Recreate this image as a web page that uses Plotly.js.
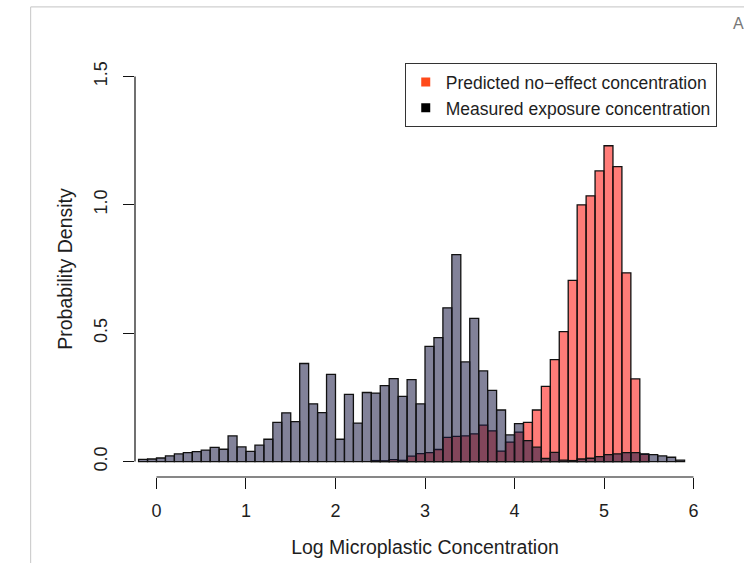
<!DOCTYPE html>
<html>
<head>
<meta charset="utf-8">
<script src="https://cdn.plot.ly/plotly-3.0.1.min.js"></script>
<style>html,body{margin:0;padding:0;background:#fff;}#chart{width:744px;height:563px;}</style>
</head>
<body>
<div id="chart"></div>
<script>
// Bin left edges (width 0.1) for measured exposure concentration
const measuredBins = [-0.2,-0.1,0.0,0.1,0.2,0.3,0.4,0.5,0.6,0.7,0.8,0.9,1.0,1.1,1.2,1.3,1.4,1.5,1.6,1.7,1.8,1.9,2.0,2.1,2.2,2.3,2.4,2.5,2.6,2.7,2.8,2.9,3.0,3.1,3.2,3.3,3.4,3.5,3.6,3.7,3.8,3.9,4.0,4.1,4.2,4.3,4.4,4.5,4.6,4.7,4.8,4.9,5.0,5.1,5.2,5.3,5.4,5.5,5.6,5.7,5.8];
const measuredDensity = [0.009,0.010,0.014,0.022,0.030,0.035,0.039,0.045,0.055,0.048,0.100,0.057,0.040,0.064,0.087,0.153,0.190,0.156,0.382,0.225,0.191,0.340,0.087,0.262,0.150,0.269,0.267,0.296,0.323,0.254,0.319,0.225,0.449,0.483,0.599,0.806,0.388,0.558,0.353,0.277,0.201,0.104,0.148,0.082,0.056,0.012,0.036,0.006,0.004,0.010,0.013,0.019,0.027,0.030,0.035,0.035,0.030,0.027,0.022,0.017,0.006];

// Bin left edges for predicted no-effect concentration
const pnecBins = [2.4,2.5,2.6,2.7,2.8,2.9,3.0,3.1,3.2,3.3,3.4,3.5,3.6,3.7,3.8,3.9,4.0,4.1,4.2,4.3,4.4,4.5,4.6,4.7,4.8,4.9,5.0,5.1,5.2,5.3,5.4];
const pnecDensity = [0.004,0.003,0.008,0.005,0.021,0.031,0.035,0.047,0.094,0.098,0.100,0.108,0.142,0.120,0.041,0.076,0.115,0.153,0.201,0.293,0.397,0.506,0.706,1.000,1.035,1.132,1.230,1.149,0.735,0.322,0.028];

const binWidth = 0.1;
const xTicks = [0,1,2,3,4,5,6];
const yTicks = [0,0.5,1,1.5];
const yTickText = ['0.0','0.5','1.0','1.5'];
const legendNames = ['Predicted no\u2212effect concentration','Measured exposure concentration'];

const FONT = 'Liberation Sans, Arial, Helvetica, sans-serif';
const TXT = '#1e1e1e';

const traces = [
  {
    type:'bar', x: pnecBins, y: pnecDensity, width: binWidth, offset: 0,
    marker:{color:'rgba(255,8,0,0.53)', line:{color:'#111', width:1.3}},
    showlegend:false, hoverinfo:'skip'
  },
  {
    type:'bar', x: measuredBins, y: measuredDensity, width: binWidth, offset: 0,
    marker:{color:'rgba(24,24,66,0.54)', line:{color:'#111', width:1.3}},
    showlegend:false, hoverinfo:'skip'
  },
  {
    type:'scatter', mode:'markers', x:[null], y:[null], name: legendNames[0],
    marker:{symbol:'square', size:9, color:'#ff4a1a'}
  },
  {
    type:'scatter', mode:'markers', x:[null], y:[null], name: legendNames[1],
    marker:{symbol:'square', size:9, color:'#000'}
  }
];

const layout = {
  width:744, height:563,
  paper_bgcolor:'#fff', plot_bgcolor:'#fff',
  margin:{l:135, r:28.5, t:61, b:86},
  barmode:'overlay',
  font:{family:FONT, color:TXT},
  showlegend:true,
  legend:{
    x:1.003, xanchor:'right', y:0.995, yanchor:'top',
    bgcolor:'#fff', bordercolor:'#333', borderwidth:1,
    font:{family:FONT, size:17.5, color:TXT},
    itemwidth:30, tracegroupgap:0
  },
  xaxis:{
    range:[-0.24, 6.24], tickvals:xTicks, ticks:'outside', ticklen:11, tickwidth:1, tickcolor:'#111',
    showline:false, showgrid:false, zeroline:false,
    tickfont:{family:FONT, size:18, color:TXT}, ticklabelstandoff:6,
    title:{text:'Log Microplastic Concentration', font:{family:FONT, size:19.5, color:TXT}, standoff:20}
  },
  yaxis:{
    range:[-0.06, 1.56], tickvals:yTicks, ticktext:yTickText, tickangle:-90,
    ticks:'outside', ticklen:11, tickwidth:1, tickcolor:'#111',
    showline:false, showgrid:false, zeroline:false,
    tickfont:{family:FONT, size:18, color:TXT}, ticklabelstandoff:9,
    title:{text:'Probability Density', font:{family:FONT, size:19.5, color:TXT}, standoff:12}
  },
  shapes:[
    {type:'line', xref:'x', yref:'paper', x0:xTicks[0], x1:xTicks[xTicks.length-1], y0:0, y1:0, line:{color:'#111', width:1.2}},
    {type:'line', xref:'paper', yref:'y', x0:0, x1:0, y0:yTicks[0], y1:yTicks[yTicks.length-1], line:{color:'#111', width:1.2}},
    {type:'line', xref:'paper', yref:'paper', x0:-0.18, x1:1.06, y0:1.13, y1:1.13, line:{color:'#cfcfcf', width:1.2}},
    {type:'line', xref:'paper', yref:'paper', x0:-0.18, x1:-0.18, y0:1.13, y1:-0.21, line:{color:'#cfcfcf', width:1.2}}
  ],
  annotations:[
    {xref:'paper', yref:'paper', x:1.028, y:1.09, xanchor:'left', yanchor:'middle', text:'A', showarrow:false,
     font:{family:FONT, size:16, color:'#777'}}
  ]
};

Plotly.newPlot('chart', traces, layout, {displayModeBar:false, staticPlot:true});
</script>
</body>
</html>
